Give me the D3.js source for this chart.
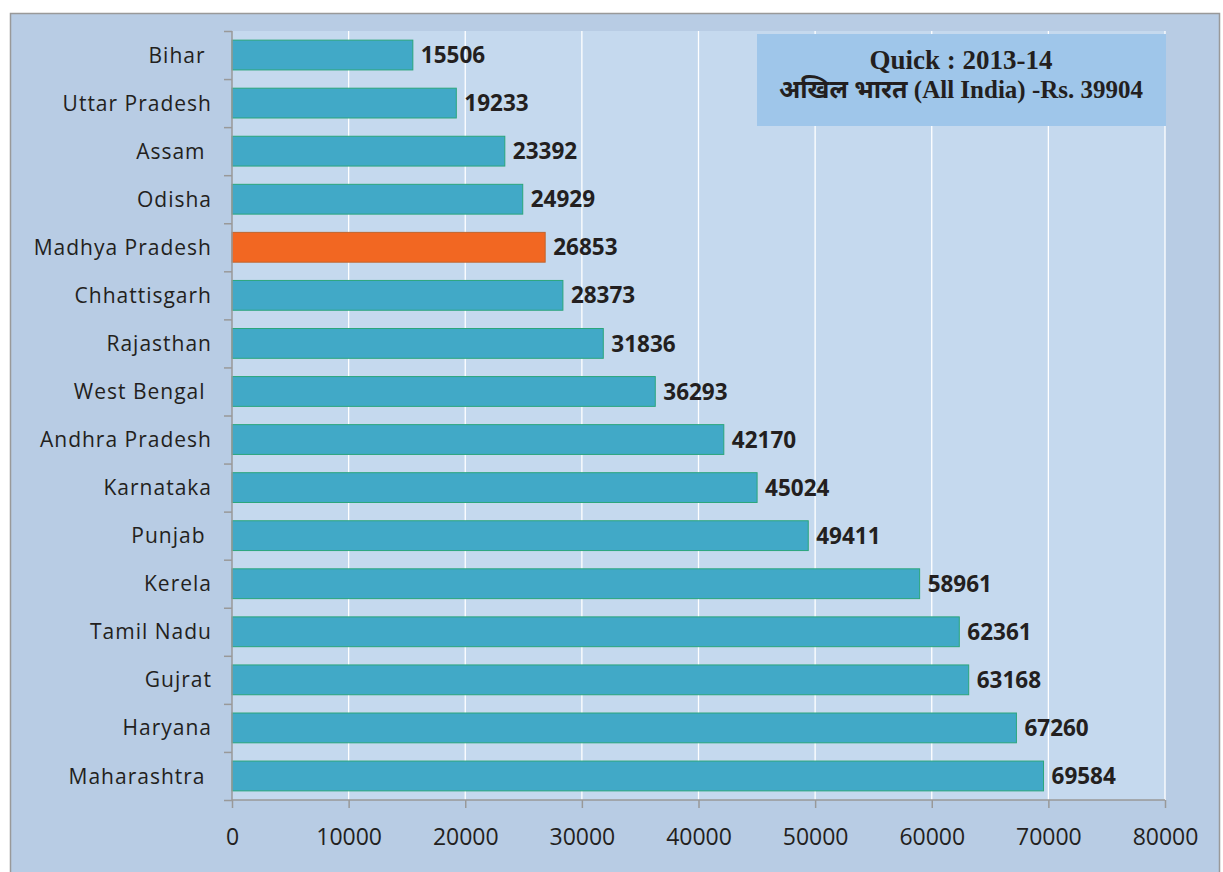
<!DOCTYPE html>
<html>
<head>
<meta charset="utf-8">
<script src="https://cdn.jsdelivr.net/npm/d3@7"></script>
<style>
  body { margin: 0; background: #fff; }
  svg text { font-family: "Open Sans", Lato, sans-serif; }
</style>
</head>
<body>
<script>
// data
var states = ["Bihar ", "Uttar Pradesh", "Assam ", "Odisha", "Madhya Pradesh", "Chhattisgarh",
  "Rajasthan", "West Bengal ", "Andhra Pradesh", "Karnataka", "Punjab ", "Kerela",
  "Tamil Nadu", "Gujrat", "Haryana", "Maharashtra "];
var income = [15506, 19233, 23392, 24929, 26853, 28373, 31836, 36293, 42170, 45024,
  49411, 58961, 62361, 63168, 67260, 69584];
var xTicks = [0, 10000, 20000, 30000, 40000, 50000, 60000, 70000, 80000];
var highlight = "Madhya Pradesh";
var titleLines = ["Quick : 2013-14", "अखिल भारत (All India) -Rs. 39904"];

var W = 1223, H = 872;
var margin = { top: 31, right: 58, bottom: 72, left: 232 };
var width = W - margin.left - margin.right,
    height = H - margin.top - margin.bottom;

var svg = d3.select("body").append("svg")
  .attr("width", W)
  .attr("height", H);

// outer chart box
svg.append("rect")
  .attr("x", 10.5).attr("y", 13.5)
  .attr("width", 1209).attr("height", 870)
  .attr("fill", "#b8cce4")
  .attr("stroke", "#999")
  .attr("stroke-width", 1.5);

var g = svg.append("g")
  .attr("transform", "translate(" + margin.left + "," + margin.top + ")");

var x = d3.scaleLinear()
  .domain([0, 80000])
  .range([0, width]);

var y = d3.scaleBand()
  .domain(states)
  .range([0, height])
  .paddingInner(0.38)
  .paddingOuter(0.19);

// plot area
g.append("rect")
  .attr("width", width)
  .attr("height", height)
  .attr("fill", "#c5d9ee");

// gridlines
g.selectAll(".grid")
  .data(xTicks.slice(1))
  .enter().append("line")
  .attr("class", "grid")
  .attr("x1", function(d) { return x(d); })
  .attr("x2", function(d) { return x(d); })
  .attr("y1", 0)
  .attr("y2", height)
  .attr("stroke", "#fff")
  .attr("stroke-width", 1.3);

// bars
g.selectAll(".bar")
  .data(states)
  .enter().append("rect")
  .attr("class", "bar")
  .attr("x", x(0))
  .attr("y", function(d) { return y(d); })
  .attr("width", function(d, i) { return x(income[i]) - x(0); })
  .attr("height", y.bandwidth())
  .attr("fill", function(d) { return d === highlight ? "#f26722" : "#41a9c7"; })
  .attr("stroke", function(d) { return d === highlight ? "#c0652e" : "#2ba67c"; })
  .attr("stroke-width", 1);

// value labels
g.selectAll(".val")
  .data(states)
  .enter().append("text")
  .attr("class", "val")
  .attr("x", function(d, i) { return x(income[i]) + 8; })
  .attr("y", function(d) { return y(d) + y.bandwidth() / 2; })
  .attr("dy", "0.36em")
  .style("font-size", "22.5px")
  .style("font-weight", "bold")
  .attr("fill", "#231f20")
  .text(function(d, i) { return income[i]; });

// y axis
var yAxis = g.append("g")
  .call(d3.axisLeft(d3.scaleLinear().domain([0, states.length]).range([0, height]))
    .tickValues(d3.range(states.length + 1))
    .tickSize(8)
    .tickFormat(""));
yAxis.selectAll("line, path").attr("stroke", "#999").attr("stroke-width", 1.5);
yAxis.select(".domain").attr("d", "M0,0V" + height);

g.selectAll(".cat")
  .data(states)
  .enter().append("text")
  .attr("class", "cat")
  .attr("x", -20)
  .attr("y", function(d) { return y(d) + y.bandwidth() / 2; })
  .attr("dy", "0.36em")
  .attr("text-anchor", "end")
  .style("font-size", "21px")
  .style("letter-spacing", "1px")
  .style("white-space", "pre")
  .attr("fill", "#231f20")
  .text(function(d) { return d; });

// x axis
var xAxis = g.append("g")
  .attr("transform", "translate(0," + height + ")")
  .call(d3.axisBottom(x).tickValues(xTicks).tickSize(8).tickPadding(21).tickFormat(d3.format("d")));
xAxis.selectAll("line, path").attr("stroke", "#999").attr("stroke-width", 1.5);
xAxis.select(".domain").attr("d", "M0,0H" + width);
xAxis.selectAll("text")
  .style("font-size", "23px")
  .style("font-family", "'Open Sans', Lato, sans-serif")
  .attr("fill", "#231f20");

// title box
var box = svg.append("g").attr("transform", "translate(757,34)");
box.append("rect")
  .attr("width", 409)
  .attr("height", 92)
  .attr("fill", "#9fc6ea");
box.selectAll("text")
  .data(titleLines)
  .enter().append("text")
  .attr("x", 204)
  .attr("y", function(d, i) { return 35 + i * 29; })
  .attr("text-anchor", "middle")
  .style("font-family", "'Liberation Serif', 'Times New Roman', 'Noto Sans', serif")
  .style("font-weight", "bold")
  .style("font-size", function(d, i) { return i === 0 ? "27px" : "25px"; })
  .attr("fill", "#231f20")
  .text(function(d) { return d; });
</script>
</body>
</html>
